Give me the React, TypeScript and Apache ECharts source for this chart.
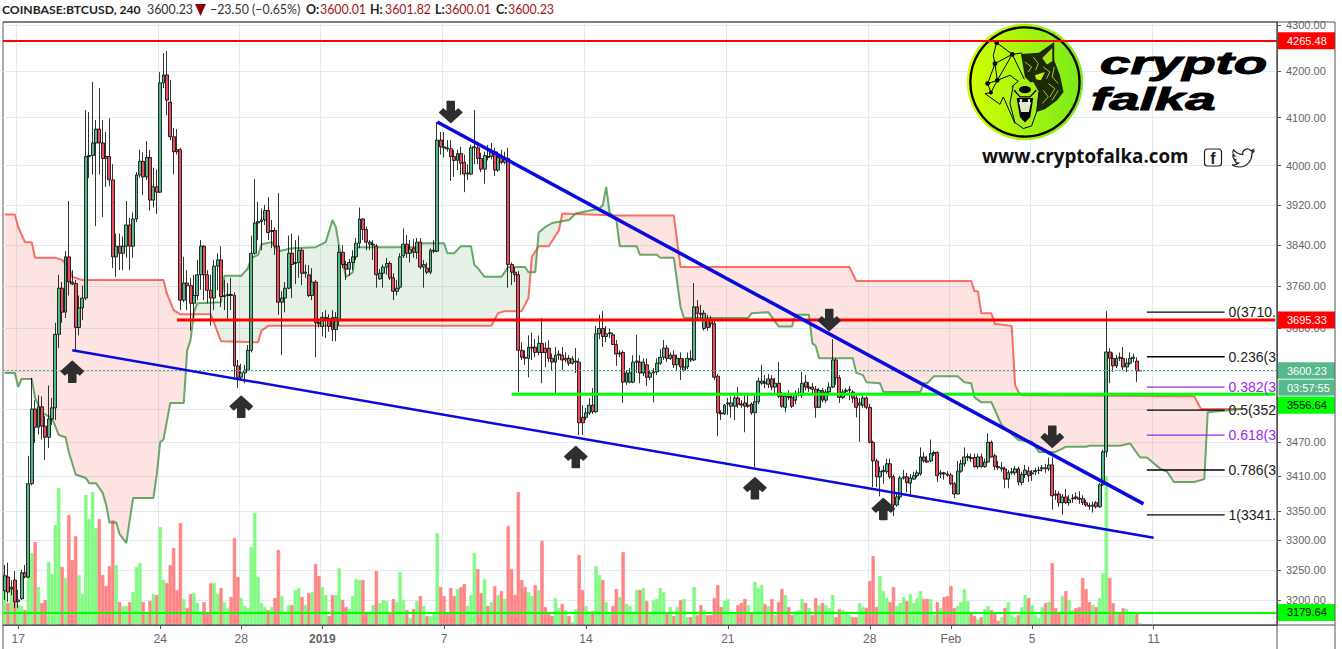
import React, { useEffect, useRef } from "react";
import * as echarts from "echarts";

const TOTAL_SLOTS = 377;
const tickLabels: Record<number, string> = {
  4: "17", 46: "24", 70: "28", 94: "{b|2019}", 130: "7", 172: "14", 214: "21", 256: "28", 280: "Feb", 304: "5", 340: "11",
};
const priceTicks = [4300, 4200, 4100, 4000, 3920, 3840, 3760, 3680, 3600, 3530, 3470, 3410, 3350, 3300, 3250, 3200];
const priceLabels = [4300, 4200, 4100, 4000, 3920, 3840, 3760, 3680, 3470, 3410, 3350, 3300, 3250, 3200];

// [open, close, low, high], one per 4h candle
const candles: number[][] = [
[3215,3240,3200,3258],[3238,3213,3197,3262],[3218,3221,3208,3233],[3233,3197,3187,3248],[3197,3200,3187,3217],[3202,3245,3200,3250],[3245,3238,3236,3258],[3238,3397,3236,3446],[3397,3530,3394,3587],[3530,3497,3469,3546],
[3497,3534,3484,3555],[3534,3499,3475,3553],[3499,3479,3439,3517],[3479,3512,3460,3573],[3512,3532,3501,3550],[3532,3668,3510,3690],[3668,3756,3642,3782],[3756,3710,3690,3768],[3710,3817,3699,3828],[3817,3768,3742,3928],
[3768,3764,3762,3791],[3765,3681,3638,3772],[3681,3718,3666,3742],[3718,3737,3695,3761],[3737,4019,3733,4116],[4019,4021,3975,4112],[4021,4047,3982,4176],[4047,4076,3878,4095],[4076,4047,3982,4163],[4047,4015,3896,4095],
[4019,4015,3957,4070],[4019,3971,3959,4099],[3971,3817,3795,4003],[3817,3838,3778,3863],[3838,3824,3791,3863],[3824,3838,3791,3857],[3838,3880,3815,3928],[3880,3838,3791,3894],[3838,3892,3815,3905],[3892,3981,3886,3987],
[3981,4009,3975,4033],[4009,3977,3940,4027],[3977,4017,3971,4051],[4017,3930,3909,4033],[3930,3957,3915,3996],[3957,3946,3902,3992],[3946,4174,3944,4197],[4174,4191,4163,4238],[4191,4137,4105,4243],[4133,4060,4053,4180],
[4060,4029,3982,4078],[4033,4029,4023,4076],[4033,3733,3714,4037],[3733,3766,3729,3817],[3766,3761,3714,3791],[3761,3727,3675,3776],[3727,3742,3699,3782],[3742,3782,3733,3811],[3782,3838,3753,3850],[3838,3782,3733,3840],
[3782,3752,3727,3791],[3752,3737,3684,3782],[3737,3799,3714,3811],[3799,3811,3752,3824],[3811,3740,3720,3838],[3740,3742,3714,3772],[3742,3744,3695,3766],[3744,3742,3714,3776],[3742,3609,3587,3748],[3609,3588,3568,3620],
[3588,3596,3583,3613],[3596,3601,3577,3611],[3601,3638,3599,3648],[3638,3824,3634,3859],[3824,3884,3821,3973],[3884,3887,3850,3926],[3887,3890,3830,3913],[3890,3909,3880,3920],[3909,3865,3850,3936],[3867,3869,3834,3890],
[3869,3838,3821,3875],[3838,3729,3705,3944],[3729,3737,3629,3750],[3737,3756,3710,3768],[3756,3824,3754,3859],[3824,3802,3737,3863],[3804,3806,3764,3850],[3806,3830,3776,3859],[3830,3785,3762,3834],[3785,3787,3776,3802],
[3782,3742,3739,3801],[3742,3768,3733,3795],[3768,3690,3625,3772],[3690,3688,3681,3698],[3683,3700,3664,3710],[3698,3700,3661,3714],[3698,3683,3673,3706],[3700,3677,3655,3714],[3677,3700,3655,3710],[3694,3826,3684,3840],
[3826,3802,3795,3840],[3802,3793,3772,3809],[3793,3806,3780,3813],[3806,3817,3791,3830],[3817,3844,3811,3854],[3844,3892,3834,3915],[3892,3871,3850,3894],[3871,3846,3830,3877],[3842,3846,3830,3850],[3840,3842,3811,3850],
[3838,3782,3757,3842],[3774,3785,3772,3793],[3785,3797,3757,3802],[3797,3804,3782,3815],[3804,3776,3772,3808],[3776,3750,3733,3785],[3750,3756,3742,3772],[3758,3817,3754,3824],[3819,3842,3815,3873],[3842,3824,3815,3861],
[3824,3832,3806,3850],[3834,3826,3815,3852],[3826,3846,3813,3854],[3846,3797,3793,3854],[3797,3802,3757,3811],[3795,3787,3783,3806],[3787,3830,3783,3834],[3828,3830,3824,3850],[3828,4053,3826,4091],[4053,4039,4023,4070],
[4039,4037,4017,4070],[4037,4035,4029,4053],[4035,4019,3969,4053],[4019,4011,3977,4033],[4011,4025,3991,4033],[4025,4005,3981,4039],[4007,3983,3946,4023],[3983,3985,3971,4003],[3983,4037,3981,4043],[4037,4039,4003,4116],
[4037,4015,4003,4047],[4015,3993,3987,4027],[3993,4021,3963,4029],[4019,4017,4011,4043],[4019,4029,4013,4047],[4029,3991,3979,4037],[3991,4017,3987,4029],[4017,4007,4003,4033],[4007,4015,4003,4029],[4015,3802,3757,4037],
[3802,3787,3762,3806],[3787,3782,3768,3797],[3782,3638,3561,3789],[3638,3625,3620,3653],[3625,3623,3611,3638],[3623,3644,3588,3666],[3642,3644,3620,3671],[3644,3634,3625,3659],[3634,3651,3629,3666],[3651,3634,3577,3699],
[3642,3634,3607,3653],[3642,3623,3616,3657],[3623,3616,3601,3632],[3616,3629,3559,3644],[3629,3631,3620,3638],[3629,3620,3601,3644],[3620,3623,3616,3634],[3623,3614,3609,3629],[3614,3622,3611,3627],[3616,3618,3596,3642],
[3616,3505,3483,3623],[3515,3505,3483,3537],[3515,3523,3510,3532],[3523,3537,3519,3550],[3537,3525,3521,3568],[3525,3669,3523,3684],[3669,3679,3659,3705],[3679,3664,3644,3712],[3664,3669,3653,3684],[3669,3671,3661,3679],
[3667,3649,3648,3671],[3649,3631,3609,3657],[3631,3633,3625,3638],[3634,3579,3541,3638],[3579,3596,3574,3601],[3579,3596,3577,3605],[3579,3616,3577,3629],[3616,3618,3596,3667],[3616,3596,3577,3629],[3596,3616,3590,3623],
[3611,3588,3572,3623],[3588,3596,3583,3601],[3596,3598,3542,3605],[3598,3614,3592,3623],[3614,3625,3611,3640],[3625,3642,3620,3657],[3642,3623,3616,3648],[3623,3629,3620,3634],[3629,3611,3605,3638],[3611,3623,3601,3630],
[3623,3607,3583,3634],[3601,3607,3598,3623],[3607,3623,3603,3634],[3623,3620,3616,3638],[3620,3720,3618,3766],[3720,3708,3694,3733],[3708,3706,3698,3724],[3679,3708,3675,3714],[3696,3681,3675,3705],[3696,3688,3681,3703],
[3688,3588,3583,3694],[3590,3523,3481,3594],[3523,3521,3510,3528],[3521,3537,3519,3539],[3539,3541,3519,3550],[3535,3541,3514,3553],[3535,3550,3510,3557],[3550,3539,3532,3570],[3539,3537,3532,3546],[3541,3535,3488,3555],
[3535,3537,3532,3559],[3539,3523,3519,3542],[3523,3543,3426,3555],[3543,3581,3539,3587],[3577,3581,3574,3611],[3579,3577,3568,3592],[3575,3585,3568,3594],[3585,3570,3564,3592],[3570,3577,3557,3587],[3577,3553,3550,3616],
[3553,3535,3532,3561],[3533,3553,3524,3559],[3553,3551,3546,3564],[3551,3535,3532,3555],[3546,3557,3539,3564],[3557,3559,3553,3568],[3555,3577,3550,3598],[3579,3570,3564,3592],[3568,3570,3561,3579],[3570,3566,3557,3577],
[3566,3533,3514,3572],[3533,3564,3532,3568],[3564,3546,3542,3568],[3546,3561,3541,3566],[3561,3570,3555,3579],[3570,3620,3568,3659],[3620,3587,3574,3623],[3587,3551,3541,3592],[3551,3561,3548,3566],[3562,3564,3557,3568],
[3564,3566,3546,3572],[3561,3550,3541,3564],[3550,3533,3515,3555],[3537,3541,3471,3550],[3537,3550,3532,3557],[3550,3533,3530,3553],[3533,3470,3468,3539],[3470,3437,3391,3473],[3437,3409,3391,3441],[3409,3418,3375,3427],
[3418,3420,3397,3429],[3418,3432,3414,3441],[3432,3409,3405,3441],[3409,3360,3341,3413],[3360,3374,3357,3379],[3374,3407,3369,3411],[3407,3409,3404,3421],[3409,3399,3382,3416],[3398,3407,3374,3414],[3405,3411,3404,3418],
[3411,3416,3407,3421],[3414,3444,3411,3461],[3444,3437,3434,3452],[3437,3435,3434,3446],[3437,3450,3435,3475],[3450,3452,3446,3455],[3452,3411,3400,3454],[3414,3416,3407,3421],[3416,3414,3404,3418],[3414,3412,3409,3419],
[3412,3397,3394,3416],[3397,3379,3372,3400],[3379,3419,3378,3437],[3419,3432,3416,3439],[3432,3444,3427,3461],[3443,3445,3437,3450],[3443,3441,3435,3450],[3443,3427,3425,3450],[3427,3444,3423,3450],[3444,3427,3425,3450],
[3427,3435,3425,3441],[3435,3470,3434,3486],[3470,3444,3443,3473],[3446,3427,3421,3450],[3427,3425,3421,3437],[3423,3425,3418,3435],[3423,3405,3389,3427],[3405,3416,3389,3421],[3416,3418,3413,3425],[3416,3423,3412,3428],
[3423,3400,3394,3427],[3399,3413,3394,3418],[3413,3421,3407,3430],[3419,3411,3400,3427],[3414,3416,3402,3421],[3418,3420,3412,3425],[3420,3421,3414,3427],[3423,3425,3418,3430],[3425,3423,3416,3432],[3423,3430,3419,3443],
[3430,3376,3352,3443],[3379,3377,3369,3386],[3379,3364,3357,3384],[3364,3374,3343,3379],[3374,3364,3362,3388],[3364,3369,3359,3377],[3371,3372,3364,3379],[3374,3372,3369,3382],[3372,3370,3362,3384],[3371,3364,3360,3377],
[3364,3360,3357,3369],[3359,3358,3352,3364],[3358,3360,3347,3366],[3364,3357,3354,3367],[3357,3395,3355,3398],[3395,3453,3393,3457],[3453,3635,3444,3712],[3635,3623,3577,3642],[3623,3609,3598,3634],[3609,3623,3605,3629],
[3625,3623,3618,3634],[3623,3607,3601,3644],[3607,3614,3598,3623],[3614,3623,3611,3634],[3623,3625,3616,3632],[3618,3600,3579,3625],[3600.01,3600.23,3600.01,3601.82],
];

const volumes = [
42,22,38,23,20,19,15,53,72,83,38,22,25,63,51,100,137,58,47,110,65,89,50,31,130,106,133,97,106,50,39,59,105,60,23,19,19,23,33,58,
62,23,13,24,31,30,98,45,42,60,77,35,102,26,17,31,32,22,12,23,12,42,42,31,37,23,17,28,87,48,27,19,17,78,112,48,22,18,15,18,
27,75,29,13,20,20,35,37,28,20,32,33,61,49,38,30,9,30,30,57,25,18,16,29,46,45,45,13,13,20,54,22,25,24,11,26,23,53,25,15,
7,16,24,29,19,9,9,12,92,38,29,13,37,29,36,38,41,19,30,72,56,32,46,19,23,39,30,34,26,99,56,30,133,45,38,33,29,40,35,84,
18,11,9,27,17,21,15,9,3,16,70,35,19,13,14,59,50,45,23,13,19,36,28,73,21,19,13,35,35,37,24,13,25,26,37,33,12,18,9,18,
25,26,8,8,38,10,20,15,10,10,27,40,18,24,26,12,12,20,22,26,20,12,43,37,40,21,19,26,10,23,36,30,18,10,12,15,26,22,17,10,
27,20,22,20,17,30,8,16,15,12,10,8,8,22,18,17,44,69,18,49,34,27,23,38,19,22,28,24,31,22,27,34,26,26,26,10,23,17,28,29,
39,17,19,23,36,24,12,9,6,8,16,19,15,11,4,8,17,23,10,8,10,18,30,27,20,10,7,18,22,23,62,17,12,29,34,25,15,17,18,47,
36,23,20,18,27,52,149,47,22,13,13,17,16,12,12,12,2,
];

// volume moving average as [candle index, value]
const volumeAverage: number[][] = [
[3,33],[6,28],[7,38],[8,42],[11,38],[14,42],[16,51],[18,54],[21,64],[23,66],[26,80],[28,77],[30,78],[33,82],[36,70],[40,66],[43,59],[45,48],[48,43],[50,46],[54,43],[57,45],[60,40],[64,43],[67,37],[69,39],[72,32],[75,39],[78,37],[81,40],[83,38],[86,38],[89,34],[92,38],[95,32],[98,32],
[99,35],[102,31],[105,35],[108,33],[111,33],[114,29],[116,31],[120,27],[123,28],[126,23],[128,27],[131,26],[136,28],[139,33],[141,35],[146,38],[148,34],[151,40],[152,46],[158,47],[162,43],[167,39],[170,33],[174,27],[177,29],[180,24],[183,30],[186,30],[189,33],[192,31],[194,32],[197,28],[200,28],
[203,23],[206,24],[209,21],[212,22],[215,20],[218,21],[223,24],[229,25],[234,23],[239,24],[244,21],[248,21],[251,18],[255,18],[258,23],[263,24],[270,27],[274,31],[278,26],[284,25],[289,22],[294,19],[300,16],
[306,15],[310,20],[314,22],[318,25],[323,25],[326,35],[329,33],[331,32],[333,32],[336,30],
];

const spanRed: number[][] = [
[0,3901],[3,3901],[4,3876],[6,3846],[8,3846],[9,3815],[15,3815],[17,3811],[19,3797],[20,3778],[23,3772],[47,3772],[48,3746],[50,3714],[52,3706],[61,3706],[64,3655],[75,3653],[76,3675],[78,3684],[144,3684],[146,3708],[148,3712],[153,3712],[155,3737],[156,3817],[158,3838],[161,3838],[164,3869],[165,3903],[181,3899],[198,3899],[200,3797],[250,3797],[252,3770],[286,3770],[287,3750],[288,3750],[289,3708],[292,3708],[293,3688],[298,3684],[299,3574],[300,3561],[301,3555],[352,3553],[354,3530],[366,3530],
];
const spanGreen: number[][] = [
[0,3596],[3,3596],[4,3570],[5,3585],[8,3585],[9,3550],[11,3523],[14,3514],[16,3483],[18,3479],[19,3452],[21,3413],[24,3407],[25,3398],[27,3398],[29,3381],[30,3361],[31,3330],[33,3330],[34,3310],[36,3295],[37,3334],[38,3372],[44,3372],[45,3413],[46,3470],[47,3475],[49,3541],[53,3541],[54,3638],[55,3657],[56,3710],[57,3727],[64,3729],[65,3780],[70,3780],[72,3795],[73,3815],[75,3821],[76,3842],[79,3846],[81,3828],[85,3834],[92,3836],[95,3846],[97,3890],[98,3876],[99,3836],[101,3778],[103,3787],[104,3836],[122,3836],[123,3844],[130,3844],[131,3824],[133,3824],[135,3838],[138,3838],[139,3801],[140,3795],[142,3778],[147,3778],[149,3797],[154,3797],[155,3787],[157,3787],[158,3865],[160,3876],[162,3884],[167,3890],[169,3903],[176,3913],[177,3920],[178,3957],[179,3905],[181,3890],[182,3838],[187,3838],[188,3821],[193,3821],[194,3815],[198,3815],[200,3720],[201,3699],[220,3699],[221,3708],[226,3710],[229,3683],[233,3683],[234,3705],[238,3705],[239,3651],[240,3646],[241,3623],[251,3623],[252,3596],[254,3592],[255,3579],[259,3577],[260,3561],[271,3561],[272,3577],[273,3577],[275,3590],[282,3590],[284,3579],[286,3577],[287,3551],[289,3542],[292,3542],[295,3501],[300,3474],[304,3471],[306,3453],[311,3453],[314,3462],[320,3462],[321,3464],[330,3464],[333,3468],[336,3443],[338,3443],[342,3423],[344,3418],[346,3400],[352,3400],[355,3405],[356,3524],[366,3530],
];

const lowerTrend: number[][] = [[20,3638],[340,3304]];
const upperTrend: number[][] = [[128,4091],[337,3362]];
const resistanceLine: number[][] = [[51,3695.33],[376,3695.33]];
const supportLine: number[][] = [[150,3556.64],[376,3556.64]];

const upArrows: number[][] = [[20,3598],[70,3534],[169,3444],[222,3389],[260,3353]];
const downArrows: number[][] = [[132,4112],[244,3695],[310,3480]];

const fibPrices = [3710, 3626, 3570, 3528, 3483, 3421, 3343];
const fibLabels = ["0(3710.", "0.236(3", "0.382(3", "0.5(352", "0.618(3", "0.786(3", "1(3341."];
const fibColors = ["#222", "#222", "#9c27f0", "#222", "#9c27f0", "#222", "#222"];

const priceTags = [
  { text: "4265.48", price: 4265.48, bg: "#ff0000", fg: "#fff", shift: 0 },
  { text: "3695.33", price: 3695.33, bg: "#ff0000", fg: "#fff", shift: 0 },
  { text: "3600.23", price: 3600.23, bg: "#56b88c", fg: "#fff", shift: 0 },
  { text: "03:57:55", price: 3600.23, bg: "#56b88c", fg: "#fff", shift: 17 },
  { text: "3556.64", price: 3556.64, bg: "#00ff00", fg: "#000", shift: 11 },
  { text: "3179.64", price: 3179.64, bg: "#00ff00", fg: "#000", shift: 0 },
];

const TWITTER = "M23.95 4.57a10 10 0 0 1-2.82.77 4.96 4.96 0 0 0 2.16-2.72 9.9 9.9 0 0 1-3.12 1.19 4.92 4.92 0 0 0-8.38 4.48A13.98 13.98 0 0 1 1.67 3.15a4.92 4.92 0 0 0 1.52 6.57 4.9 4.9 0 0 1-2.23-.62v.06a4.93 4.93 0 0 0 3.95 4.83 4.99 4.99 0 0 1-2.21.08 4.94 4.94 0 0 0 4.6 3.42 9.87 9.87 0 0 1-6.1 2.1c-.39 0-.78-.02-1.17-.07a14 14 0 0 0 7.56 2.21c9.05 0 14-7.5 14-13.98 0-.21 0-.42-.02-.63a9.94 9.94 0 0 0 2.46-2.55z";
const ARROW = "path://M11 0L22 10L18.5 13.5L14.5 10L14.5 21L7.5 21L7.5 10L3.5 13.5L0 10Z";
const FONT = "'Liberation Sans', Arial, sans-serif";

function yAt(pts: number[][], x: number) {
  for (let k = 1; k < pts.length; k++) {
    if (x <= pts[k][0]) {
      const [x0, y0] = pts[k - 1];
      const [x1, y1] = pts[k];
      return x1 === x0 ? y1 : y0 + ((y1 - y0) * (x - x0)) / (x1 - x0);
    }
  }
  return pts[pts.length - 1][1];
}

function renderCloud(params: any, api: any) {
  const g = spanGreen.map((d) => api.coord(d));
  const r = spanRed.map((d) => api.coord(d));
  const end = Math.min(g[g.length - 1][0], r[r.length - 1][0]);
  const children: any[] = [];
  let top: number[][] = [];
  let bot: number[][] = [];
  let sign = 0;
  const flush = () => {
    if (top.length > 1) {
      children.push({
        type: "polygon",
        shape: { points: top.concat(bot.slice().reverse()) },
        style: { fill: sign > 0 ? "rgba(244,67,54,0.15)" : "rgba(56,142,60,0.13)", stroke: "none" },
      });
    }
    top = [];
    bot = [];
  };
  for (let x = g[0][0]; x <= end; x += 1) {
    const yr = yAt(r, x);
    const yg = yAt(g, x);
    const s = yr < yg ? 1 : -1;
    if (s !== sign && sign !== 0) {
      top.push([x, yg]);
      bot.push([x, yr]);
      flush();
    }
    sign = s;
    top.push([x, yg]);
    bot.push([x, yr]);
  }
  flush();
  return { type: "group", children };
}

function logo() {
  const ln = (points: number[][], w = 3, c = "#000") => ({ type: "polyline", shape: { points }, style: { stroke: c, lineWidth: w, fill: "none" } });
  const fill = (points: number[][], c: string) => ({ type: "polygon", shape: { points }, style: { fill: c, stroke: "none" } });
  const dot = (cx: number, cy: number, rr = 7) => ({ type: "circle", shape: { cx, cy, r: rr }, style: { fill: "#000" } });
  return {
    type: "group",
    x: 965,
    y: 22,
    scaleX: 1 / 3,
    scaleY: 1 / 3,
    z: 100,
    children: [
      {
        type: "circle",
        shape: { cx: 180, cy: 180, r: 175 },
        style: {
          fill: new echarts.graphic.LinearGradient(0, 0, 1, 0, [
            { offset: 0, color: "#d4ff00" },
            { offset: 1, color: "#78ea1c" },
          ]),
        },
      },
      { type: "circle", shape: { cx: 180, cy: 180, r: 164 }, style: { fill: "none", stroke: "#000", lineWidth: 7 } },
      ln([[95,62],[85,100],[90,125],[68,185],[78,212],[60,215],[105,247],[115,225],[150,305]]),
      ln([[95,62],[142,97],[90,125],[97,175],[68,185]]),
      ln([[97,175],[142,97],[178,172]]),
      ln([[142,97],[172,93]]),
      ln([[97,175],[135,160],[160,178],[140,195]]),
      ln([[78,212],[97,175]]),
      dot(95,62), dot(142,97), dot(90,125), dot(97,175), dot(68,185), dot(78,212,6),
      fill([[168,96],[222,92],[268,60],[268,115],[285,160],[296,210],[276,236],[240,262],[215,270],[205,190],[180,165]], "#1d2a05"),
      fill([[232,108],[262,78],[262,118],[246,128]], "#a2e818"),
      fill([[210,160],[240,150],[228,175],[214,172]], "#c4f210"),
      ln([[180,120],[200,135],[190,150]], 3, "#8fd81c"),
      ln([[205,105],[220,125],[212,145]], 3, "#8fd81c"),
      ln([[235,135],[255,150],[245,170]], 3, "#8fd81c"),
      ln([[268,135],[262,165],[280,185]], 3, "#8fd81c"),
      ln([[250,185],[270,200],[255,225]], 3, "#8fd81c"),
      ln([[235,205],[250,225],[232,245]], 3, "#8fd81c"),
      ln([[280,205],[262,235]], 3, "#8fd81c"),
      fill([[145,190],[205,180],[222,210],[215,270],[200,312],[175,320],[150,302],[135,245]], "#a8ee16"),
      ln([[145,190],[135,245],[150,302],[175,320],[200,312],[215,270],[222,210]], 3),
      { type: "ellipse", shape: { cx: 180, cy: 203, rx: 18, ry: 11 }, style: { fill: "#000" } },
      ln([[148,205],[165,225],[195,225],[214,205]], 4),
      fill([[155,228],[205,228],[196,285],[180,302],[165,285]], "#000"),
      fill([[162,240],[198,240],[192,270],[168,270]], "#dfe8c8"),
      fill([[164,232],[172,232],[168,252]], "#fff"),
      fill([[188,232],[196,232],[192,252]], "#fff"),
      dot(180, 288, 9),
    ],
  };
}

export default function App() {
  const ref = useRef<HTMLDivElement>(null);
  useEffect(() => {
    if (!ref.current) return;
    document.body.style.margin = "0";
    try {
      echarts.graphic.registerShape("twitterBird", echarts.graphic.extendPath(TWITTER, {}));
    } catch (e) {}
    const chart = echarts.init(ref.current, undefined, { renderer: "svg" });
    const cats = Array.from({ length: TOTAL_SLOTS }, (_, i) => String(i));
    const hasTick = (i: number) => tickLabels[i] !== undefined;
    const twoPoint = (data: number[][], color: string, width: number, z: number) => ({
      type: "line", data, showSymbol: false, silent: true, z,
      lineStyle: { color, width }, itemStyle: { color }, animation: false,
    });
    const option: any = {
      animation: false,
      grid: { left: 3, top: 22, width: 1274, height: 603, show: true, borderColor: "#555", borderWidth: 1, backgroundColor: "#fff", containLabel: false },
      xAxis: {
        type: "category", data: cats, boundaryGap: true,
        axisLine: { show: true, lineStyle: { color: "#555" } },
        axisTick: { show: true, length: 4, interval: (i: number) => hasTick(i), alignWithLabel: true, lineStyle: { color: "#555" } },
        axisLabel: {
          show: true, interval: (i: number) => hasTick(i), color: "#666", fontSize: 12, fontFamily: FONT, margin: 8,
          formatter: (_: string, i: number) => tickLabels[i] || "",
          rich: { b: { fontWeight: "bold", color: "#666", fontSize: 12, fontFamily: FONT } },
        },
        splitLine: { show: true, interval: (i: number) => hasTick(i), lineStyle: { color: "#e1ecf2", width: 1 } },
      },
      yAxis: [
        {
          type: "log", logBase: 10, position: "right", min: 3159.1, max: 4306.6,
          axisLine: { show: true, lineStyle: { color: "#555" } },
          axisTick: { show: true, length: 4, customValues: priceTicks, lineStyle: { color: "#555" } },
          axisLabel: { show: true, customValues: priceLabels, color: "#666", fontSize: 11, fontFamily: FONT, margin: 9, formatter: (v: number) => Number(v).toFixed(2) },
          splitLine: { show: true, lineStyle: { color: "#e1ecf2", width: 1 } },
        },
        { type: "value", min: 0, max: 603, show: false, splitLine: { show: false } },
      ],
      series: [
        { type: "custom", renderItem: renderCloud, data: [[0, 4000]], silent: true, z: 1, clip: true },
        {
          type: "bar", yAxisIndex: 1, barWidth: "100%", barGap: "0%", silent: true, z: 2,
          data: volumes.map((v, i) => {
            const c = candles[i][1] >= candles[i][0] ? "#83fa83" : "#ff8585";
            return { value: v, itemStyle: { color: c, borderColor: c, borderWidth: 0.6 } };
          }),
        },
        twoPoint(volumeAverage, "#14eeff", 2, 3),
        { ...twoPoint(spanRed, "rgba(244,67,54,0.75)", 2, 3) },
        { ...twoPoint(spanGreen, "rgba(56,142,60,0.75)", 2, 3) },
        {
          type: "candlestick", silent: true, z: 4, barWidth: 3.4,
          data: candles,
          itemStyle: { color: "#53b987", color0: "#eb4d5c", borderColor: "#000", borderColor0: "#000", borderWidth: 0.8 },
          markLine: {
            silent: true, symbol: "none", label: { show: false }, animation: false, z: 5,
            data: [
              { yAxis: 4265.48, lineStyle: { color: "#ff0000", width: 2, type: "solid" } },
              { yAxis: 3179.64, lineStyle: { color: "#00ff00", width: 2, type: "solid" } },
              { yAxis: 3600.23, lineStyle: { color: "#3fae7e", width: 1, type: [2, 2] } },
            ],
          },
        },
        twoPoint(resistanceLine, "#ff0000", 3, 5),
        twoPoint(supportLine, "#00ff00", 3, 5),
        twoPoint(lowerTrend, "#0a0adf", 2.5, 6),
        twoPoint(upperTrend, "#0a0adf", 3.5, 6),
        ...fibPrices.map((p, k) => twoPoint([[338, p], [361, p]], k === 2 || k === 4 ? "#9c27f0" : "#000", 1.3, 6)),
        {
          type: "scatter", z: 7, silent: true, symbolSize: 1, itemStyle: { color: "transparent", opacity: 1 },
          data: fibPrices.map((p, k) => ({
            value: [362, p],
            label: { show: true, position: "right", distance: 0, formatter: fibLabels[k], color: fibColors[k], opacity: 1, fontSize: 14, fontFamily: FONT },
          })),
        },
        { type: "scatter", z: 8, silent: true, symbol: ARROW, symbolSize: [22, 21], itemStyle: { color: "#2e2e2e", opacity: 1, borderColor: "#2e2e2e", borderWidth: 1.5, borderJoin: "round" }, data: upArrows },
        { type: "scatter", z: 8, silent: true, symbol: ARROW, symbolRotate: 180, symbolSize: [22, 21], itemStyle: { color: "#2e2e2e", opacity: 1, borderColor: "#2e2e2e", borderWidth: 1.5, borderJoin: "round" }, data: downArrows },
      ],
    };
    chart.setOption(option);

    const tags: any[] = [];
    priceTags.forEach((t) => {
      const y = chart.convertToPixel({ yAxisIndex: 0 }, t.price) + t.shift;
      const isClock = t.text.includes(":");
      tags.push({
        type: "rect", z: 90, shape: { x: 1278, y: y - 8.5, width: 57, height: 17 },
        style: { fill: t.bg, stroke: isClock ? "#e8f5ee" : "none", lineWidth: isClock ? 1 : 0 },
      });
      tags.push({ type: "text", z: 91, x: 1287, y, style: { text: t.text, fill: t.fg, fontSize: 11, fontFamily: FONT, verticalAlign: "middle" } });
    });
    const frame = (x1: number, y1: number, x2: number, y2: number) => ({
      type: "line", z: 92, shape: { x1, y1, x2, y2 }, style: { stroke: "#555", lineWidth: 1 },
    });
    const head = (x: number, text: string, fill: string, bold = false, size = 12.4) => ({
      type: "text", z: 95, x, y: 9,
      style: { text, fill, fontSize: size, fontWeight: bold ? "bold" : "normal", fontFamily: "Lato, 'Open Sans'", verticalAlign: "middle" },
    });
    chart.setOption({
      graphic: [
        ...tags,
        frame(1277, 22, 1277, 649), frame(1335, 22, 1335, 649), frame(3, 625, 1335, 625), frame(3, 22, 1335, 22), frame(3, 625, 3, 649),
        head(2, "COINBASE:BTCUSD, 240", "#222", true, 12.2),
        head(147, "3600.23", "#333"),
        { type: "polygon", z: 95, shape: { points: [[195, 4], [206, 4], [200.5, 16]] }, style: { fill: "#8b0000" } },
        head(210, "−23.50 (−0.65%)", "#333"),
        head(306, "O:", "#222", true),
        head(320, "3600.01", "#a31515"),
        head(370, "H:", "#222", true),
        head(385, "3601.82", "#a31515"),
        head(435, "L:", "#222", true),
        head(445, "3600.01", "#a31515"),
        head(496, "C:", "#222", true),
        head(508, "3600.23", "#a31515"),
        logo(),
        { type: "text", z: 100, x: 1100, y: 63, scaleX: 1.71, style: { text: "crypto", fill: "#000", stroke: "#000", lineWidth: 1, fontSize: 32, fontWeight: "bold", fontStyle: "italic", fontFamily: FONT, verticalAlign: "middle" } },
        { type: "text", z: 100, x: 1091, y: 99, scaleX: 1.71, style: { text: "falka", fill: "#000", stroke: "#000", lineWidth: 1, fontSize: 32, fontWeight: "bold", fontStyle: "italic", fontFamily: FONT, verticalAlign: "middle" } },
        { type: "text", z: 100, x: 982, y: 156, style: { text: "www.cryptofalka.com", fill: "#111", fontSize: 18.8, fontWeight: "bold", fontFamily: "'Open Sans'", verticalAlign: "middle" } },
        { type: "rect", z: 100, shape: { x: 1204.5, y: 149, width: 17, height: 17, r: 3 }, style: { fill: "#fff", stroke: "#222", lineWidth: 1.2 } },
        { type: "text", z: 101, x: 1213, y: 158, style: { text: "f", fill: "#222", fontSize: 16, fontWeight: "bold", fontFamily: FONT, align: "center", verticalAlign: "middle" } },
        { type: "twitterBird", z: 100, x: 1232, y: 147, scaleX: 0.92, scaleY: 0.92, style: { fill: "#fff", stroke: "#222", lineWidth: 1.3 } },
      ],
    });
    return () => chart.dispose();
  }, []);
  return <div ref={ref} style={{ position: "absolute", left: 0, top: 0, width: 1342, height: 649, background: "#fff" }} />;
}
